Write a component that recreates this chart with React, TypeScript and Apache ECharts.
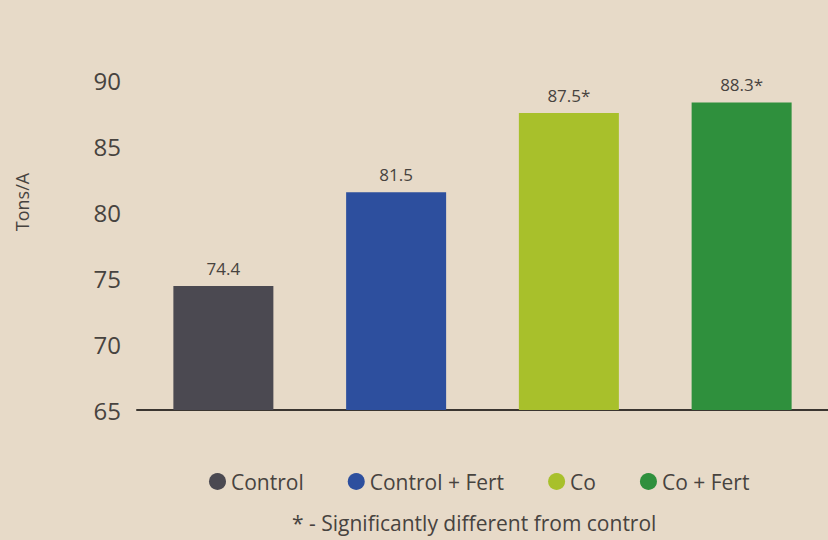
import React, { useEffect, useRef } from "react";
import * as echarts from "echarts";

const categories = ["Control", "Control + Fert", "Co", "Co + Fert"];
const values = [74.4, 81.5, 87.5, 88.3];
const valueLabels = ["74.4", "81.5", "87.5*", "88.3*"];
const colors = ["#4b4951", "#2d4f9e", "#a8c02b", "#2f903d"];
const footnote = "* - Significantly different from control";

export default function App() {
  const ref = useRef<HTMLDivElement>(null);
  useEffect(() => {
    if (!ref.current) return;
    const chart = echarts.init(ref.current, null, { renderer: "svg" });
    const textColor = "#47433f";
    const series = categories.map((name, i) => ({
      name,
      type: "bar",
      stack: "all",
      barWidth: 100,
      itemStyle: { color: colors[i] },
      label: {
        show: true,
        position: "top",
        distance: 9,
        color: textColor,
        fontSize: 17,
        fontFamily: "Open Sans",
        formatter: () => valueLabels[i],
      },
      data: categories.map((_, j) => (j === i ? values[i] : "-")),
    }));
    chart.setOption({
      animation: false,
      backgroundColor: "#e7dac8",
      textStyle: { fontFamily: "Open Sans" },
      grid: { left: 137, right: 0, top: 14, bottom: 130 },
      xAxis: {
        type: "category",
        data: categories,
        axisLine: { lineStyle: { color: "#3a3530", width: 2 } },
        axisTick: { show: false },
        axisLabel: { show: false },
      },
      yAxis: {
        type: "value",
        min: 65,
        max: 95,
        interval: 5,
        name: "Tons/A",
        nameLocation: "middle",
        nameGap: 106,
        nameTextStyle: { color: textColor, fontSize: 18, fontFamily: "Open Sans", padding: [0, 0, 0, 20] },
        axisLine: { show: false },
        axisTick: { show: false },
        splitLine: { show: false },
        axisLabel: {
          color: textColor,
          fontSize: 24,
          margin: 16,
          fontFamily: "Open Sans",
          formatter: (v: number) => (v > 90 ? "" : String(v)),
        },
      },
      legend: {
        left: 204,
        top: 466,
        icon: "circle",
        itemWidth: 17,
        itemHeight: 17,
        itemGap: 44,
        textStyle: { color: textColor, fontSize: 21, fontFamily: "Open Sans" },
        data: categories,
      },
      title: {
        text: footnote,
        left: 287,
        top: 507,
        textStyle: { color: textColor, fontSize: 21, fontWeight: "normal", fontFamily: "Open Sans" },
      },
      series,
    });
    return () => chart.dispose();
  }, []);
  return (
    <div
      ref={ref}
      style={{ position: "fixed", left: 0, top: 0, width: 828, height: 540 }}
    />
  );
}
